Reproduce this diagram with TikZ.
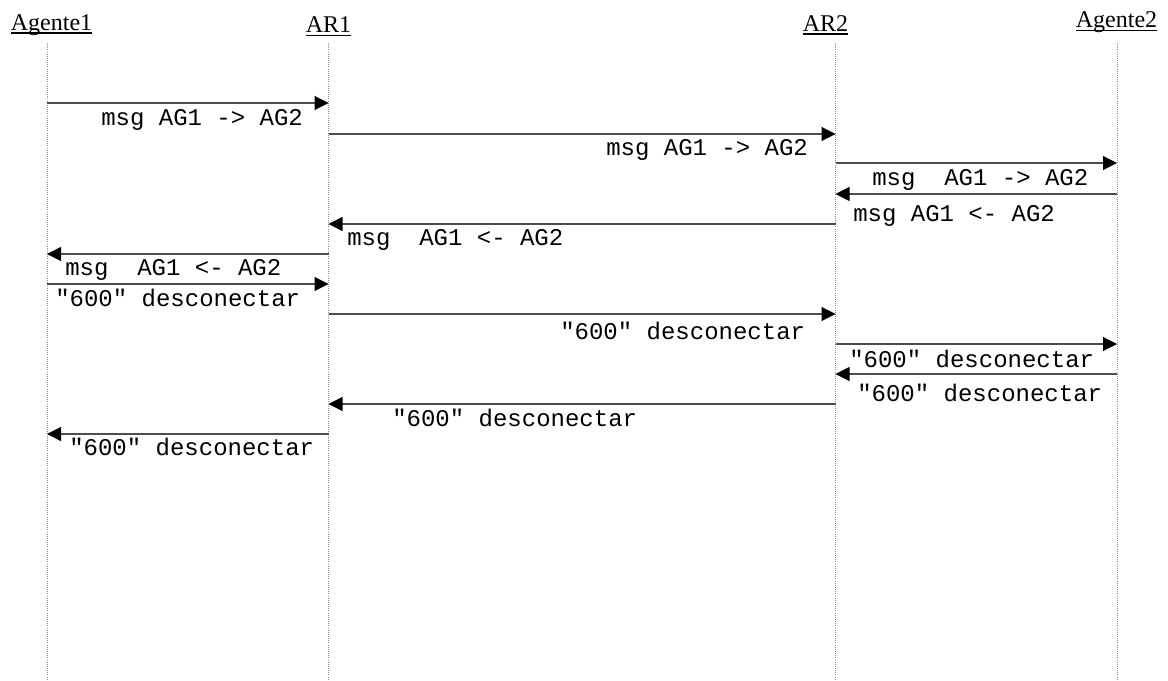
\documentclass[tikz,border=0pt]{standalone}
\usepackage{fontspec}
\setmainfont{Liberation Serif}
\setmonofont{Liberation Mono}
\usetikzlibrary{arrows.meta}
% underline at a fixed depth, whatever the letters
\newcommand{\ulhdr}[1]{\setbox0=\hbox{#1}\rlap{\vrule width \wd0 height -1.5pt depth 2.3pt}\box0}
\tikzset{
  actor/.style={
    inner sep=0pt, anchor=base,
    font=\fontsize{18}{20}\selectfont
  },
  lifeline/.style={
    densely dotted, line width=0.6pt, draw=black!45
  },
  msgarr/.style={
    -{Triangle[length=10.5pt, width=10.5pt, color=black]},
    line width=0.8pt, draw=black!70
  },
  msglbl/.style={
    inner sep=0pt, anchor=base west,
    font=\ttfamily\fontsize{18}{20}\selectfont
  },
}

\begin{document}
\begin{tikzpicture}[x=0.75pt, y=-0.75pt]

  \fill[white] (0,0) rectangle (1168,681);
  \useasboundingbox (0,0) rectangle (1168,681);

  % ── actors ────────────────────────────────────────────────────────────────
  \node[actor] (agente1) at (51.5,30.5) {\ulhdr{Agente1}};
  \node[actor] (ar1)     at (328.5,33)  {\ulhdr{AR1}};
  \node[actor] (ar2)     at (825.5,31.5){\ulhdr{AR2}};
  \node[actor] (agente2) at (1116.5,28) {\ulhdr{Agente2}};

  % ── lifelines ─────────────────────────────────────────────────────────────
  \coordinate (l1) at (47,43);    \coordinate (l1end) at (47,681);
  \coordinate (l2) at (328.5,43); \coordinate (l2end) at (328.5,681);
  \coordinate (l3) at (835.5,43); \coordinate (l3end) at (835.5,681);
  \coordinate (l4) at (1117,43);  \coordinate (l4end) at (1117,681);

  \draw[lifeline] (l1) -- (l1end);
  \draw[lifeline] (l2) -- (l2end);
  \draw[lifeline] (l3) -- (l3end);
  \draw[lifeline] (l4) -- (l4end);

  % message rows
  \coordinate (m1)  at (0,103);
  \coordinate (m2)  at (0,134);
  \coordinate (m3)  at (0,163);
  \coordinate (m4)  at (0,194);
  \coordinate (m5)  at (0,224);
  \coordinate (m6)  at (0,254);
  \coordinate (m7)  at (0,284);
  \coordinate (m8)  at (0,314);
  \coordinate (m9)  at (0,344);
  \coordinate (m10) at (0,374);
  \coordinate (m11) at (0,404);
  \coordinate (m12) at (0,434);

  % ── messages ──────────────────────────────────────────────────────────────
  \draw[msgarr] (l1 |- m1)  -- (l2 |- m1);
  \draw[msgarr] (l2 |- m2)  -- (l3 |- m2);
  \draw[msgarr] (l3 |- m3)  -- (l4 |- m3);
  \draw[msgarr] (l4 |- m4)  -- (l3 |- m4);
  \draw[msgarr] (l3 |- m5)  -- (l2 |- m5);
  \draw[msgarr] (l2 |- m6)  -- (l1 |- m6);
  \draw[msgarr] (l1 |- m7)  -- (l2 |- m7);
  \draw[msgarr] (l2 |- m8)  -- (l3 |- m8);
  \draw[msgarr] (l3 |- m9)  -- (l4 |- m9);
  \draw[msgarr] (l4 |- m10) -- (l3 |- m10);
  \draw[msgarr] (l3 |- m11) -- (l2 |- m11);
  \draw[msgarr] (l2 |- m12) -- (l1 |- m12);

  % labels
  \node[msglbl] (t1)  at (101,126) {msg AG1 -> AG2};
  \node[msglbl] (t2)  at (606,156) {msg AG1 -> AG2};
  \node[msglbl] (t3)  at (872,186) {msg~~AG1 -> AG2};
  \node[msglbl] (t4)  at (853,222) {msg AG1 <- AG2};
  \node[msglbl] (t5)  at (347,246) {msg~~AG1 <- AG2};
  \node[msglbl] (t6)  at (65,276)  {msg~~AG1 <- AG2};
  \node[msglbl] (t7)  at (55,306)  {"600" desconectar};
  \node[msglbl] (t8)  at (560,339) {"600" desconectar};
  \node[msglbl] (t9)  at (849,367) {"600" desconectar};
  \node[msglbl] (t10) at (857,401) {"600" desconectar};
  \node[msglbl] (t11) at (392,426) {"600" desconectar};
  \node[msglbl] (t12) at (69,455)  {"600" desconectar};

\end{tikzpicture}
\end{document}
